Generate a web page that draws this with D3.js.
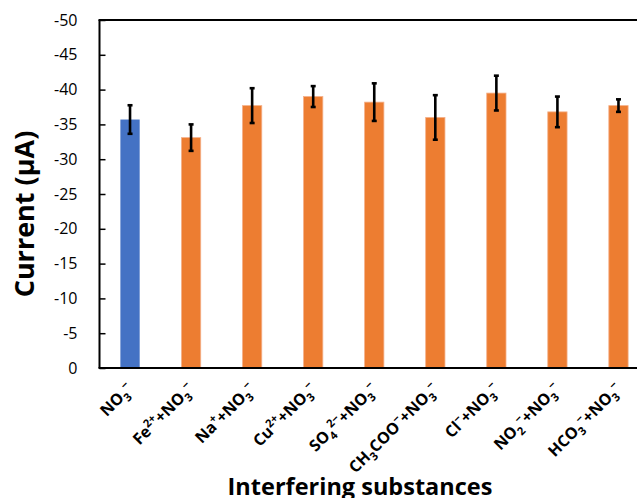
<!DOCTYPE html>
<html>
<head>
<meta charset="utf-8">
<script src="https://cdn.jsdelivr.net/npm/d3@7"></script>
<style>
  html, body { margin: 0; padding: 0; background: #fff; }
  svg { display: block; }
  text { font-family: "Open Sans", "Liberation Sans", sans-serif; fill: #000; }
</style>
</head>
<body>
<svg id="chart" width="637" height="498"></svg>
<script>
// Interferent categories; _{...} marks a subscript, ^{...} a superscript
const categories = [
  "NO_{3}^{−}",
  "Fe^{2+}+NO_{3}^{−}",
  "Na^{+}+NO_{3}^{−}",
  "Cu^{2+}+NO_{3}^{−}",
  "SO_{4}^{2−}+NO_{3}^{−}",
  "CH_{3}COO^{−}+NO_{3}^{−}",
  "Cl^{−}+NO_{3}^{−}",
  "NO_{2}^{−}+NO_{3}^{−}",
  "HCO_{3}^{−}+NO_{3}^{−}"
];
// Peak current (µA) and its standard deviation
const currents = [-35.7, -33.1, -37.7, -39.0, -38.2, -36.0, -39.5, -36.8, -37.7];
const errors   = [2.05, 1.9, 2.5, 1.5, 2.7, 3.2, 2.5, 2.2, 0.9];
const yTicks   = [0, -5, -10, -15, -20, -25, -30, -35, -40, -45, -50];

const svg = d3.select("#chart");
const plot = { left: 99.5, right: 649, top: 20, bottom: 368 };

const x = d3.scaleBand()
  .domain(d3.range(categories.length))
  .range([plot.left, plot.right])
  .paddingInner(0.684)
  .paddingOuter(0.342);

const y = d3.scaleLinear()
  .domain([0, -50])
  .range([plot.bottom, plot.top]);

const blue = "#4472C4", orange = "#ED7D31";

// Bars
svg.append("g").selectAll("rect")
  .data(currents)
  .join("rect")
  .attr("x", (d, i) => x(i))
  .attr("width", x.bandwidth())
  .attr("y", d => y(d))
  .attr("height", d => y(0) - y(d))
  .attr("fill", (d, i) => i === 0 ? blue : orange)
  .attr("stroke", (d, i) => i === 0 ? "none" : "#F4B08A")
  .attr("stroke-width", 0.8);

// Error bars
const eb = svg.append("g").attr("stroke", "#000").attr("stroke-width", 2.6);
currents.forEach((v, i) => {
  const cx = x(i) + x.bandwidth() / 2;
  const y1 = y(v - errors[i]), y2 = y(v + errors[i]);
  eb.append("line").attr("x1", cx).attr("x2", cx).attr("y1", y1).attr("y2", y2);
  eb.append("line").attr("x1", cx - 2.5).attr("x2", cx + 2.5).attr("y1", y1).attr("y2", y1);
  eb.append("line").attr("x1", cx - 2.5).attr("x2", cx + 2.5).attr("y1", y2).attr("y2", y2);
});

// Y axis: inward ticks, labels on the left
const yAxis = svg.append("g")
  .attr("transform", `translate(${plot.left},0)`)
  .call(d3.axisLeft(y).tickValues(yTicks).tickFormat(d => String(d))
    .tickSizeInner(-6).tickSizeOuter(0).tickPadding(22));
yAxis.select(".domain").remove();
yAxis.selectAll("line").attr("stroke", "#000").attr("stroke-width", 1.5);
yAxis.selectAll("text")
  .style("font-family", "'Open Sans', sans-serif")
  .style("font-size", "16px")
  .attr("fill", "#000");

// Frame: left, top and bottom lines
const frame = svg.append("g").attr("stroke", "#000").attr("stroke-width", 2).attr("fill", "none");
frame.append("line").attr("x1", plot.left).attr("x2", plot.left).attr("y1", plot.top).attr("y2", plot.bottom);
frame.append("line").attr("x1", plot.left - 1).attr("x2", 637).attr("y1", plot.top).attr("y2", plot.top);
frame.append("line").attr("x1", plot.left - 1).attr("x2", 637).attr("y1", plot.bottom).attr("y2", plot.bottom);

// Category labels, rotated, with chemical sub/superscripts
function richLabel(sel, markup, size) {
  const parts = markup.match(/_\{[^}]*\}|\^\{[^}]*\}|[^_^]+/g);
  let offset = 0;
  parts.forEach(p => {
    let txt = p, shift = 0, fs = size;
    if (p.startsWith("_{")) { txt = p.slice(2, -1); shift = size * 0.28; fs = size * 0.7; }
    else if (p.startsWith("^{")) { txt = p.slice(2, -1); shift = -size * 0.4; fs = size * 0.7; }
    sel.append("tspan")
      .attr("dy", shift - offset)
      .style("font-size", fs + "px")
      .text(txt);
    offset = shift;
  });
}

const xl = svg.append("g");
categories.forEach((c, i) => {
  const cx = x(i) + x.bandwidth() / 2;
  const t = xl.append("text")
    .attr("transform", `translate(${cx + 4},390) rotate(-45)`)
    .attr("text-anchor", "end")
    .style("font-weight", "bold")
    .style("font-size", "16px");
  richLabel(t, c, 16);
});

// Axis titles
svg.append("text")
  .attr("x", 360).attr("y", 495)
  .attr("text-anchor", "middle")
  .style("font-weight", "bold")
  .style("font-size", "23.5px")
  .text("Interfering substances");

svg.append("text")
  .attr("transform", "translate(34,214) rotate(-90)")
  .attr("text-anchor", "middle")
  .style("font-weight", "bold")
  .style("font-size", "27px")
  .text("Current (µA)");
</script>
</body>
</html>
